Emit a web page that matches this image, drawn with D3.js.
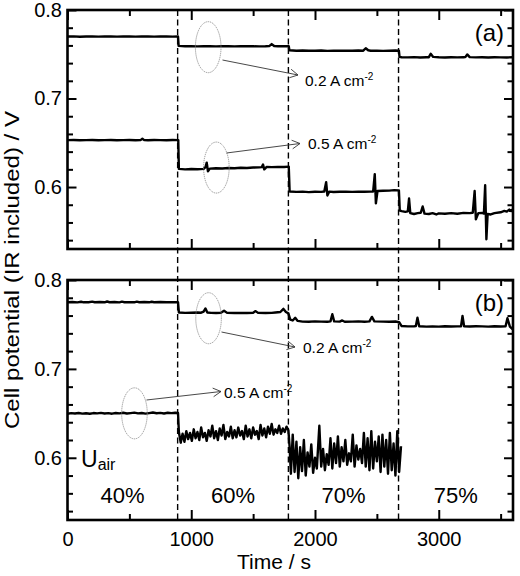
<!DOCTYPE html>
<html>
<head>
<meta charset="utf-8">
<script src="https://cdn.jsdelivr.net/npm/d3@7"></script>
<style>
  body { margin: 0; background: #fff; }
  text { font-family: Arial, "Liberation Sans", sans-serif; fill: #000; }
</style>
</head>
<body>
<svg id="chart" width="520" height="576"></svg>
<script>
// time (s) and cell potential (V)
var a02 = [[0,.770],[50,.7702],[100,.7698],[150,.770],[200,.7701],[250,.7699],[300,.770],[350,.7702],[400,.7699],[450,.770],[500,.7701],[550,.7699],[600,.7702],[650,.770],[700,.7699],[750,.7701],[800,.770],[850,.7699],[893,.770],[898,.7595],[950,.759],[1000,.7592],[1050,.7589],[1100,.759],[1150,.7591],[1200,.7589],[1250,.759],[1300,.7592],[1350,.7589],[1400,.759],[1450,.7591],[1500,.759],[1550,.7589],[1600,.759],[1630,.7592],[1650,.7615],[1670,.7593],[1700,.759],[1750,.7591],[1788,.759],[1793,.7545],[1850,.754],[1900,.7542],[1950,.7539],[2000,.754],[2050,.7542],[2100,.7538],[2150,.754],[2200,.7541],[2250,.7539],[2300,.754],[2350,.7542],[2390,.754],[2410,.7568],[2430,.7545],[2450,.754],[2500,.7541],[2550,.7538],[2600,.754],[2650,.7542],[2678,.754],[2683,.747],[2700,.7466],[2750,.7465],[2800,.7468],[2850,.7464],[2900,.7466],[2920,.7467],[2935,.7505],[2955,.747],[3000,.7466],[3050,.7464],[3100,.7467],[3150,.7465],[3200,.7467],[3215,.7468],[3230,.7498],[3250,.7468],[3300,.7465],[3350,.7466],[3400,.7463],[3450,.7466],[3500,.7465],[3550,.7464],[3600,.7466]];

var a05 = [[0,.653],[50,.6532],[100,.6528],[150,.653],[200,.6531],[250,.6529],[300,.653],[350,.6532],[400,.6529],[450,.653],[500,.6531],[550,.6529],[590,.653],[605,.6545],[620,.653],[650,.6529],[700,.6531],[750,.653],[800,.6529],[850,.6531],[895,.653],[900,.6205],[950,.620],[1000,.6203],[1050,.6201],[1100,.6205],[1115,.6225],[1125,.6275],[1135,.6178],[1150,.6208],[1200,.6212],[1250,.621],[1300,.6215],[1350,.6212],[1400,.6218],[1450,.6215],[1500,.622],[1550,.6222],[1570,.6225],[1580,.6255],[1590,.620],[1610,.6228],[1650,.6225],[1700,.6228],[1750,.6226],[1788,.623],[1795,.595],[1850,.5945],[1900,.5948],[1950,.5943],[2000,.5947],[2050,.5945],[2075,.595],[2090,.6055],[2100,.5905],[2115,.5948],[2150,.5944],[2200,.5946],[2250,.5948],[2300,.5945],[2350,.5947],[2400,.5946],[2450,.5948],[2470,.595],[2483,.6145],[2492,.5815],[2505,.5955],[2550,.5958],[2600,.596],[2640,.5965],[2678,.5962],[2685,.5735],[2700,.5728],[2730,.572],[2750,.5725],[2760,.587],[2770,.5705],[2800,.5695],[2830,.5705],[2855,.571],[2870,.578],[2885,.570],[2920,.5695],[2950,.5705],[2980,.569],[3000,.5702],[3050,.5698],[3100,.5705],[3150,.5698],[3200,.5708],[3250,.5705],[3275,.571],[3290,.5955],[3300,.5635],[3320,.5705],[3350,.5708],[3365,.570],[3375,.602],[3385,.541],[3395,.5695],[3420,.569],[3450,.5705],[3500,.5715],[3530,.573],[3550,.5722],[3570,.5745],[3585,.5728],[3600,.575]];

var b02 = [[0,.775],[40,.7752],[80,.7748],[110,.7755],[130,.7749],[170,.775],[200,.7757],[220,.775],[260,.7752],[300,.7749],[320,.7758],[340,.775],[380,.7752],[420,.7748],[440,.7756],[460,.775],[500,.7751],[540,.7749],[560,.7756],[580,.775],[620,.7752],[660,.7749],[680,.7755],[700,.775],[750,.7752],[800,.775],[850,.7751],[893,.775],[900,.7635],[950,.763],[1000,.7632],[1050,.7635],[1080,.7632],[1100,.7645],[1115,.768],[1130,.7635],[1160,.763],[1200,.7628],[1240,.7632],[1265,.7655],[1290,.763],[1350,.7628],[1400,.763],[1450,.7628],[1500,.7632],[1520,.765],[1540,.763],[1600,.7628],[1650,.763],[1680,.7635],[1720,.764],[1745,.7675],[1765,.764],[1785,.7625],[1800,.7555],[1820,.7545],[1840,.7575],[1860,.754],[1900,.7532],[1950,.753],[2000,.7535],[2050,.7532],[2100,.753],[2125,.7535],[2140,.7615],[2155,.7535],[2200,.7532],[2220,.7545],[2240,.753],[2300,.7532],[2350,.7535],[2400,.753],[2440,.7535],[2460,.7585],[2480,.7535],[2550,.7532],[2600,.753],[2650,.7533],[2680,.7525],[2700,.7482],[2750,.7478],[2800,.7478],[2815,.7482],[2828,.7575],[2842,.748],[2900,.7475],[2950,.7478],[3000,.7476],[3050,.748],[3100,.7477],[3150,.7478],[3180,.748],[3192,.7595],[3205,.7478],[3250,.7477],[3300,.748],[3350,.7478],[3400,.7476],[3450,.748],[3500,.7477],[3540,.748],[3555,.757],[3575,.7475],[3590,.7455],[3600,.7445]];

var b05 = [[0,.6495],[30,.6502],[60,.6498],[90,.6504],[120,.6497],[150,.6501],[180,.6495],[210,.6503],[240,.6499],[270,.6505],[300,.6498],[330,.6502],[360,.6496],[390,.6504],[420,.65],[450,.6506],[480,.6498],[510,.6503],[540,.6508],[570,.6499],[600,.6504],[630,.6497],[660,.6503],[690,.6509],[720,.6501],[750,.6505],[780,.6498],[810,.6507],[840,.6502],[870,.6506],[893,.6503],
  [900,.629],[915,.617],[930,.627],[945,.618],[960,.630],[975,.621],[990,.628],[1005,.619],[1020,.632],[1035,.622],[1050,.629],[1065,.620],[1080,.634],[1095,.623],[1110,.628],[1125,.619],[1140,.631],[1155,.624],[1170,.636],[1185,.622],[1200,.630],[1215,.620],[1230,.633],[1245,.625],[1260,.637],[1275,.621],[1290,.629],[1305,.624],[1320,.635],[1335,.622],[1350,.631],[1365,.623],[1380,.634],[1395,.625],[1410,.630],[1425,.621],[1440,.636],[1455,.624],[1470,.632],[1485,.622],[1500,.634],[1515,.626],[1530,.630],[1545,.621],[1560,.637],[1575,.625],[1590,.633],[1605,.623],[1620,.635],[1635,.627],[1650,.638],[1665,.626],[1680,.632],[1695,.628],[1710,.636],[1725,.627],[1740,.633],[1755,.629],[1770,.635],[1785,.631],
  [1795,.612],[1805,.582],[1820,.626],[1835,.584],[1850,.618],[1865,.577],[1880,.612],[1895,.585],[1910,.620],[1925,.580],[1940,.606],[1955,.590],[1970,.615],[1985,.583],[2000,.600],[2015,.588],[2035,.636],[2050,.590],[2065,.610],[2080,.586],[2095,.604],[2110,.592],[2125,.622],[2140,.588],[2155,.616],[2170,.594],[2185,.624],[2200,.590],[2215,.612],[2230,.596],[2245,.620],[2260,.592],[2275,.605],[2290,.596],[2305,.626],[2320,.590],[2335,.614],[2350,.598],[2365,.610],[2380,.594],[2395,.628],[2410,.590],[2425,.622],[2440,.586],[2455,.630],[2470,.588],[2485,.618],[2500,.596],[2515,.624],[2530,.584],[2545,.626],[2560,.590],[2575,.620],[2590,.582],[2605,.628],[2620,.586],[2635,.616],[2650,.580],[2665,.630],[2680,.584],[2695,.613]];

var switchTimes = [890, 1785, 2675];
var uairLabels = ["40%", "60%", "70%", "75%"];
var uairAt = [445, 1337, 2230, 3137];
var xMajor = [0, 1000, 2000, 3000];
var xMinor = [500, 1500, 2500, 3500];
var yMajor = [0.6, 0.7, 0.8];
var yMinor = [0.54, 0.56, 0.58, 0.62, 0.64, 0.66, 0.68, 0.72, 0.74, 0.76, 0.78];

var svg = d3.select("#chart");
var left = 67.5, right = 513;

var x = d3.scaleLinear().domain([0, 3600]).range([left, right]);
var panels = [
  { id: "a", top: 10, bottom: 249, hi: a02, lo: a05, tag: "(a)" },
  { id: "b", top: 280, bottom: 520, hi: b02, lo: b05, tag: "(b)" }
];
panels.forEach(function(p) {
  p.y = d3.scaleLinear().domain([0.53, 0.8]).range([p.bottom, p.top]);
});

// dashed lines for the air utilization switches, through both panels
svg.selectAll("line.switch")
  .data(switchTimes)
  .enter().append("line")
  .attr("class", "switch")
  .attr("x1", function(d) { return x(d); })
  .attr("x2", function(d) { return x(d); })
  .attr("y1", panels[0].top)
  .attr("y2", panels[1].bottom)
  .attr("stroke", "#000")
  .attr("stroke-width", 1.4)
  .attr("stroke-dasharray", "6,3.5");

panels.forEach(function(p, i) {
  var g = svg.append("g");
  var y = p.y;

  g.append("clipPath").attr("id", "clip-" + p.id)
    .append("rect").attr("x", left).attr("y", p.top)
    .attr("width", right - left).attr("height", p.bottom - p.top);

  var line = d3.line()
    .x(function(d) { return x(d[0]); })
    .y(function(d) { return y(d[1]); });

  g.selectAll("path.trace")
    .data([p.hi, p.lo])
    .enter().append("path")
    .attr("class", "trace")
    .attr("clip-path", "url(#clip-" + p.id + ")")
    .attr("d", line)
    .attr("fill", "none")
    .attr("stroke", "#000")
    .attr("stroke-width", 2.4)
    .attr("stroke-linejoin", "round");

  // ticks on all four sides, pointing in
  var showX = i === 1;
  g.append("g").attr("transform", "translate(0," + p.bottom + ")")
    .call(d3.axisBottom(x).tickValues(xMajor).tickSize(-10).tickPadding(12)
      .tickFormat(showX ? d3.format("d") : function() { return ""; }));
  g.append("g").attr("transform", "translate(0," + p.bottom + ")")
    .call(d3.axisBottom(x).tickValues(xMinor).tickSize(-6).tickFormat(""));
  g.append("g").attr("transform", "translate(0," + p.top + ")")
    .call(d3.axisTop(x).tickValues(xMajor).tickSize(-10).tickFormat(""));
  g.append("g").attr("transform", "translate(0," + p.top + ")")
    .call(d3.axisTop(x).tickValues(xMinor).tickSize(-6).tickFormat(""));

  g.append("g").attr("transform", "translate(" + left + ",0)")
    .call(d3.axisLeft(y).tickValues(yMajor).tickSize(-9).tickPadding(5.5).tickFormat(d3.format(".1f")));
  g.append("g").attr("transform", "translate(" + left + ",0)")
    .call(d3.axisLeft(y).tickValues(yMinor).tickSize(-5.5).tickFormat(""));
  g.append("g").attr("transform", "translate(" + right + ",0)")
    .call(d3.axisRight(y).tickValues(yMajor).tickSize(-9).tickFormat(""));
  g.append("g").attr("transform", "translate(" + right + ",0)")
    .call(d3.axisRight(y).tickValues(yMinor).tickSize(-5.5).tickFormat(""));

  g.selectAll(".domain").remove();
  g.selectAll(".tick line").attr("stroke", "#000").attr("stroke-width", 2);
  g.selectAll(".tick text").attr("font-size", 20).attr("fill", "#000")
    .attr("font-family", "Arial, 'Liberation Sans', sans-serif");

  g.append("rect")
    .attr("x", left).attr("y", p.top)
    .attr("width", right - left).attr("height", p.bottom - p.top)
    .attr("fill", "none").attr("stroke", "#000").attr("stroke-width", 2.6);

  g.append("text")
    .attr("x", 504).attr("y", p.top + 31)
    .attr("text-anchor", "end")
    .attr("font-size", 24)
    .text(p.tag);
});

// annotations: ellipse round a trace, arrow to the current density label
var ya = panels[0].y, yb = panels[1].y;
var notes = [
  { cx: x(1137), cy: ya(0.758), from: [222.5, 60], to: [298, 75], tx: 305, ty: 86, label: "0.2 A cm" },
  { cx: x(1203), cy: ya(0.622), from: [226.5, 153], to: [300, 143.5], tx: 308, ty: 148.5, label: "0.5 A cm" },
  { cx: x(1140), cy: yb(0.757), from: [221.5, 332], to: [295, 347], tx: 303, ty: 353, label: "0.2 A cm" },
  { cx: x(541), cy: yb(0.650), from: [146.5, 400], to: [221, 391.5], tx: 224, ty: 398, label: "0.5 A cm" }
];

var ann = svg.append("g");
notes.forEach(function(n) {
  ann.append("ellipse")
    .attr("cx", n.cx).attr("cy", n.cy)
    .attr("rx", 12.8).attr("ry", 25.5)
    .attr("fill", "none").attr("stroke", "#8a8a8a")
    .attr("stroke-width", 0.9).attr("stroke-dasharray", "1.2,0.8");

  ann.append("line")
    .attr("x1", n.from[0]).attr("y1", n.from[1])
    .attr("x2", n.to[0]).attr("y2", n.to[1])
    .attr("stroke", "#333").attr("stroke-width", 0.9);

  var ang = Math.atan2(n.to[1] - n.from[1], n.to[0] - n.from[0]);
  var hl = 9, spread = 0.5;
  ann.append("path")
    .attr("d", "M" + (n.to[0] - hl * Math.cos(ang - spread)) + "," + (n.to[1] - hl * Math.sin(ang - spread)) +
      "L" + n.to[0] + "," + n.to[1] +
      "L" + (n.to[0] - hl * Math.cos(ang + spread)) + "," + (n.to[1] - hl * Math.sin(ang + spread)))
    .attr("fill", "none").attr("stroke", "#333").attr("stroke-width", 0.9);

  var t = ann.append("text")
    .attr("x", n.tx).attr("y", n.ty)
    .attr("font-size", 15.5)
    .text(n.label);
  t.append("tspan").attr("dy", -6).attr("font-size", 10).text("-2");
});

// air utilization labels in panel (b)
var ub = svg.append("text").attr("x", 81).attr("y", 467).attr("font-size", 23).text("U");
ub.append("tspan").attr("dy", 3).attr("font-size", 16).text("air");

svg.selectAll("text.uair")
  .data(uairLabels)
  .enter().append("text")
  .attr("class", "uair")
  .attr("x", function(d, i) { return x(uairAt[i]); })
  .attr("y", 503)
  .attr("text-anchor", "middle")
  .attr("font-size", 22)
  .text(function(d) { return d; });

// axis titles
svg.append("text")
  .attr("transform", "translate(19,270) rotate(-90)")
  .attr("text-anchor", "middle")
  .attr("font-size", 20)
  .attr("textLength", 318)
  .attr("lengthAdjust", "spacingAndGlyphs")
  .text("Cell potential (IR included) / V");

svg.append("text")
  .attr("x", 274).attr("y", 569)
  .attr("text-anchor", "middle")
  .attr("font-size", 21)
  .text("Time / s");
</script>
</body>
</html>
